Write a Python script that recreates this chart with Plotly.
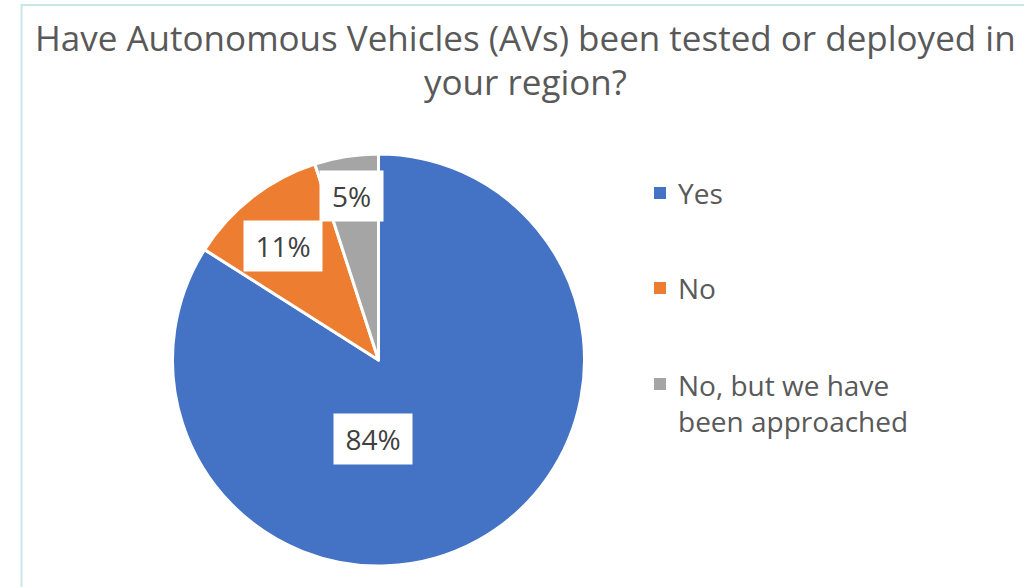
import plotly.graph_objects as go

# ---- data ----
categories = ["Yes", "No", "No, but we have been approached"]
legend_text = ["Yes", "No", "No, but we have<br>been approached"]
values = [84, 11, 5]
colors = ["#4472C4", "#ED7D31", "#A5A5A5"]
title_lines = ["Have Autonomous Vehicles (AVs) been tested or deployed in", "your region?"]

W, H = 1024, 587
FONT = "Open Sans, sans-serif"

# pie placement (pixels)
cx, cy, r = 378.5, 360, 206

fig = go.Figure(go.Pie(
    labels=categories,
    values=values,
    marker=dict(colors=colors, line=dict(color="white", width=3)),
    sort=False,
    direction="clockwise",
    rotation=0,
    textinfo="none",
    hoverinfo="label+percent",
    showlegend=False,
    domain=dict(x=[(cx - r) / W, (cx + r) / W], y=[(H - cy - r) / H, (H - cy + r) / H]),
))

# data label box centres (pixels)
label_pos = [(373, 438.5), (283, 246), (351.5, 196)]
total = sum(values)
for v, (px, py) in zip(values, label_pos):
    txt = f"{round(100 * v / total)}%"
    fig.add_annotation(
        x=px / W, y=(H - py) / H, xref="paper", yref="paper",
        xanchor="center", yanchor="middle",
        text=txt, showarrow=False,
        font=dict(family=FONT, size=28, color="#404040"),
        bgcolor="white", borderpad=0,
        width=15 * len(txt) + 33, height=50,
    )

# legend (manual, to reproduce spacing)
legend_y = [193, 288, 384]
line_h = 37
for txt, col, ly in zip(legend_text, colors, legend_y):
    fig.add_shape(type="rect", xref="paper", yref="paper",
                  x0=654 / W, x1=666 / W, y0=(H - ly - 6) / H, y1=(H - ly + 6) / H,
                  fillcolor=col, line=dict(width=0))
    nlines = txt.count("<br>") + 1
    mid = ly + (nlines - 1) * line_h / 2
    fig.add_annotation(
        x=676 / W, y=(H - mid) / H, xref="paper", yref="paper",
        xanchor="left", yanchor="middle", align="left",
        text=txt, showarrow=False,
        font=dict(family=FONT, size=28, color="#595959"),
    )

# title (two lines)
title_mid = [37, 81]
for t, ty in zip(title_lines, title_mid):
    fig.add_annotation(
        x=525 / W, y=(H - ty) / H, xref="paper", yref="paper",
        xanchor="center", yanchor="middle", align="center",
        text=t, showarrow=False,
        font=dict(family=FONT, size=35, color="#595959"),
    )

# chart-area border
fig.add_shape(type="rect", xref="paper", yref="paper",
              x0=21.5 / W, x1=1.05, y0=-0.05, y1=(H - 5) / H,
              line=dict(color="#C9E5EC", width=2), fillcolor="rgba(0,0,0,0)")

fig.update_layout(
    width=W, height=H,
    margin=dict(l=0, r=0, t=0, b=0),
    paper_bgcolor="white", plot_bgcolor="white",
)

fig.write_html(
    "out.html",
    config={"displayModeBar": False},
    post_script="document.body.style.margin='0';document.body.style.overflow='hidden';",
)
